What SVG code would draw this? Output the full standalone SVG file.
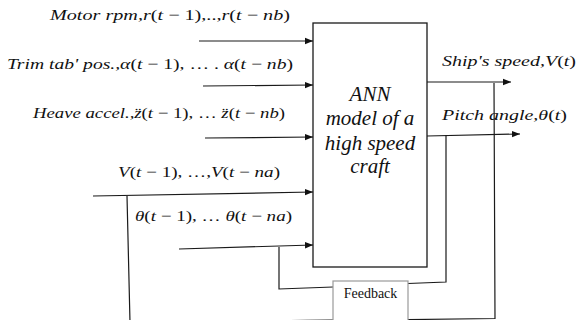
<svg xmlns="http://www.w3.org/2000/svg" width="583" height="320" viewBox="0 0 583 320">
  <defs>
    <marker id="arr" viewBox="0 0 10 10" refX="10" refY="5" markerWidth="8" markerHeight="8" markerUnits="userSpaceOnUse" orient="auto">
      <path d="M0,1 L10,5 L0,9 z" fill="#111"/>
    </marker>
  </defs>

  <rect width="583" height="320" fill="#fff"/>

  <!-- model block -->
  <g id="ann-model" font-family="Liberation Serif, serif" font-style="italic" font-size="21" fill="#111" text-anchor="middle">
    <rect x="313" y="23" width="114" height="244" fill="#fff" stroke="#1a1a1a" stroke-width="1.3"/>
    <text x="370" y="101">ANN</text>
    <text x="370" y="125">model of a</text>
    <text x="370" y="150">high speed</text>
    <text x="370" y="173">craft</text>
  </g>

  <!-- input, output and feedback lines -->
  <g id="connectors" fill="none" stroke="#1a1a1a" stroke-width="1.2">
    <path d="M199 41 H313" marker-end="url(#arr)"/>
    <path d="M203 86 L313 85" marker-end="url(#arr)"/>
    <path d="M205 138 L313 137" marker-end="url(#arr)"/>
    <path d="M93 196 L313 192" marker-end="url(#arr)"/>
    <path d="M179 249 L313 245" marker-end="url(#arr)"/>
    <path d="M427 82 L511 82" marker-end="url(#arr)"/>
    <path d="M427 136 L520 134" marker-end="url(#arr)"/>
    <!-- speed fed back to V(t-1)...V(t-na), running along the lower edge -->
    <path d="M494 83 L495 318.5 L408 319.6 L333 320 L307 320.4 L130 322.5 L127 196"/>
    <!-- pitch fed back through the feedback block to the theta inputs -->
    <path d="M446 135 L446 282 L408 283.5"/>
    <path d="M333 287 L279 289 L279 247"/>
  </g>

  <g id="feedback">
    <rect x="333" y="281" width="75" height="45" fill="#fff" stroke="#9a9a9a" stroke-width="1.2"/>
    <text x="370.5" y="298" font-family="Liberation Serif, serif" font-size="14" fill="#111" text-anchor="middle">Feedback</text>
  </g>

  <!-- signal labels -->
  <g id="labels" font-family="Liberation Serif, serif" font-style="italic" font-size="15" fill="#111">
    <text x="50" y="20" textLength="240" lengthAdjust="spacingAndGlyphs">Motor rpm,r<tspan font-style="normal">(</tspan>t<tspan font-style="normal"> − 1),..,</tspan>r<tspan font-style="normal">(</tspan>t<tspan font-style="normal"> − </tspan>nb<tspan font-style="normal">)</tspan></text>
    <text x="7" y="69" textLength="286" lengthAdjust="spacingAndGlyphs">Trim tab' pos.,α<tspan font-style="normal">(</tspan>t<tspan font-style="normal"> − 1), … .</tspan> α<tspan font-style="normal">(</tspan>t<tspan font-style="normal"> − </tspan>nb<tspan font-style="normal">)</tspan></text>
    <text x="33" y="118" textLength="252" lengthAdjust="spacingAndGlyphs">Heave accel.,z̈<tspan font-style="normal">(</tspan>t<tspan font-style="normal"> − 1), …</tspan> z̈<tspan font-style="normal">(</tspan>t<tspan font-style="normal"> − </tspan>nb<tspan font-style="normal">)</tspan></text>
    <text x="118" y="177" textLength="162" lengthAdjust="spacingAndGlyphs">V<tspan font-style="normal">(</tspan>t<tspan font-style="normal"> − 1), …,</tspan>V<tspan font-style="normal">(</tspan>t<tspan font-style="normal"> − </tspan>na<tspan font-style="normal">)</tspan></text>
    <text x="135" y="221" textLength="157" lengthAdjust="spacingAndGlyphs">θ<tspan font-style="normal">(</tspan>t<tspan font-style="normal"> − 1), …</tspan> θ<tspan font-style="normal">(</tspan>t<tspan font-style="normal"> − </tspan>na<tspan font-style="normal">)</tspan></text>
    <text x="442" y="66" textLength="134" lengthAdjust="spacingAndGlyphs">Ship's speed,V<tspan font-style="normal">(</tspan>t<tspan font-style="normal">)</tspan></text>
    <text x="442" y="120" textLength="125" lengthAdjust="spacingAndGlyphs">Pitch angle,θ<tspan font-style="normal">(</tspan>t<tspan font-style="normal">)</tspan></text>
  </g>
</svg>
